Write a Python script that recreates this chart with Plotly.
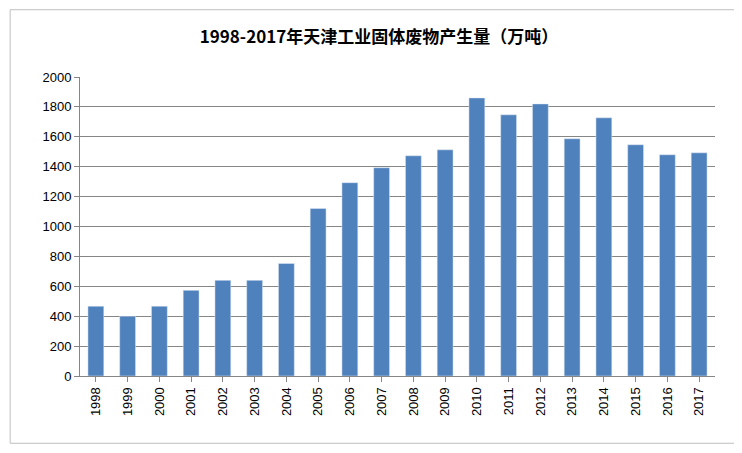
import plotly.graph_objects as go

years = [str(y) for y in range(1998, 2018)]
values = [467, 400, 467, 573, 640, 640, 753, 1120, 1293, 1393, 1473, 1513, 1860, 1747, 1820, 1587, 1727, 1547, 1480, 1493]
title = "1998-2017年天津工业固体废物产生量（万吨）"

fig = go.Figure(go.Bar(x=years, y=values, marker_color="#4F81BD", width=0.5))
fig.update_layout(
    width=742, height=453,
    paper_bgcolor="white", plot_bgcolor="white",
    margin=dict(l=72, r=35, t=69, b=85),
    title=dict(text=title, x=0.5, xanchor="center", y=0.936, yanchor="middle",
               font=dict(family="Noto Sans CJK SC", size=17, color="black", weight="bold")),
    font=dict(family="Liberation Sans", size=13, color="black"),
    showlegend=False,
    shapes=[dict(type="rect", xref="paper", yref="paper", x0=-0.11, x1=1.04, y0=-0.225, y1=1.225,
                 line=dict(color="#BFBFBF", width=1))],
)
fig.update_xaxes(tickangle=-90, showline=True, linecolor="#868686", ticks="outside",
                 tickcolor="#868686", ticklen=5)
fig.update_yaxes(range=[0, 2000], dtick=200, showgrid=True, gridcolor="#868686",
                 showline=True, linecolor="#868686", ticks="outside", tickcolor="#868686",
                 ticklen=5, zeroline=False)
fig.write_html("out.html")
